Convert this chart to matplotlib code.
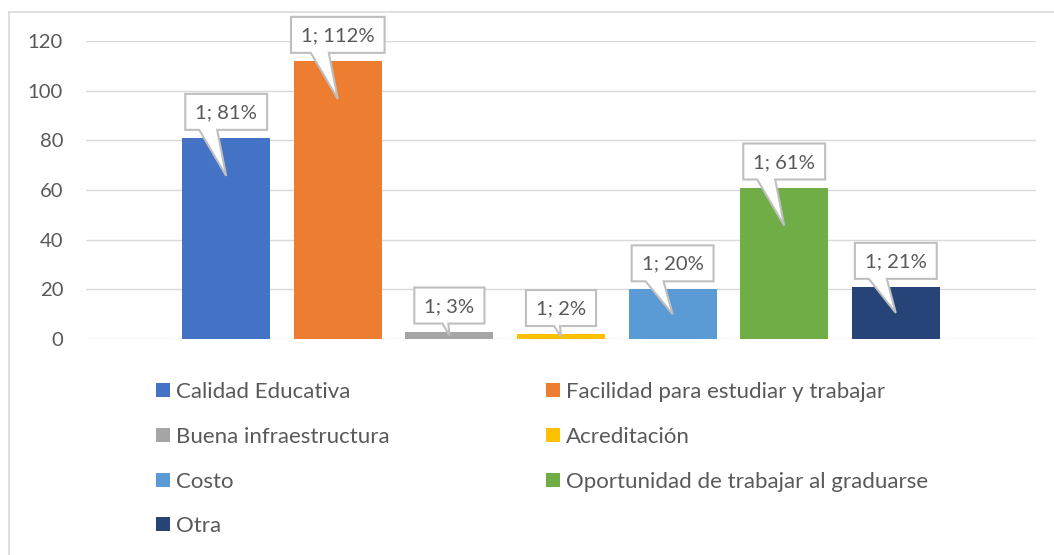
import numpy as np
import matplotlib.pyplot as plt
from matplotlib.patches import Polygon, Rectangle
from matplotlib.lines import Line2D
from matplotlib.transforms import IdentityTransform

# data
categories = ['Calidad Educativa', 'Facilidad para estudiar y trabajar',
              'Buena infraestructura', 'Acreditación', 'Costo',
              'Oportunidad de trabajar al graduarse', 'Otra']
values = [81, 112, 3, 2, 20, 61, 21]
labels = ['1; 81%', '1; 112%', '1; 3%', '1; 2%', '1; 20%', '1; 61%', '1; 21%']
colors = ['#4472C4', '#ED7D31', '#A5A5A5', '#FFC000', '#5B9BD5', '#70AD47', '#264478']
yticks = [0, 20, 40, 60, 80, 100, 120]

plt.rcParams['font.family'] = ['Lato', 'DejaVu Sans']
txt_col = '#595959'
fs = 14.6
fs_leg = 16

W, H = 1054, 555
fig = plt.figure(figsize=(W / 100, H / 100), dpi=100)
ax = fig.add_axes([86 / W, (H - 339) / H, (1036 - 86) / W, (339 - 41) / H])

x = np.arange(len(values))
ax.bar(x, values, width=0.79, color=colors, zorder=2)
ax.set_xlim(-1.256, 7.256)
ax.set_ylim(0, 120)
ax.set_yticks(yticks)
ax.set_xticks([])
ax.tick_params(axis='y', length=0, pad=16.5, labelsize=fs, labelcolor=txt_col)
for s in ax.spines.values():
    s.set_visible(False)
ax.grid(axis='y', color='#d9d9d9', lw=1.0, zorder=0)

# chart frame (only top and left edges are visible in the crop)
fig.add_artist(Line2D([9, W + 5], [H - 12, H - 12], transform=IdentityTransform(),
                      color='#d9d9d9', lw=1.2))
fig.add_artist(Line2D([9, 9], [H - 12, -5], transform=IdentityTransform(),
                      color='#d9d9d9', lw=1.2))

# callout labels
fig.canvas.draw()
renderer = fig.canvas.get_renderer()
for xi, v, lab in zip(x, values, labels):
    cx, yt = ax.transData.transform((xi, v))
    _, yb = ax.transData.transform((xi, 0))
    t = fig.text(cx, 0, lab, transform=IdentityTransform(), fontsize=fs,
                 color=txt_col, ha='center', va='center', zorder=6)
    tw = t.get_window_extent(renderer).width
    bw = tw + 20
    bot = yt + 8
    top = bot + 36
    L, R = cx - bw / 2, cx + bw / 2
    tip_y = max(yt - 38, (yt + yb) / 2)
    if bot - tip_y > 20:
        b1, b2 = cx - 27, cx - 9
    else:
        b1, b2 = cx - 7, cx - 1
    pts = [(L, bot), (b1, bot), (cx, tip_y), (b2, bot), (R, bot), (R, top), (L, top)]
    fig.add_artist(Polygon(pts, closed=True, transform=IdentityTransform(),
                           facecolor='white', edgecolor='#bfbfbf', lw=1.5, zorder=5))
    t.set_position((cx, (bot + top) / 2 - 1))

# legend, row-major in two columns
col_x = [156, 546]
row_y = [390, 435, 480, 524]
for i, (name, c) in enumerate(zip(categories, colors)):
    px = col_x[i % 2]
    py = H - row_y[i // 2]
    fig.add_artist(Rectangle((px, py - 7), 14, 14, transform=IdentityTransform(),
                             facecolor=c, edgecolor='none'))
    fig.text(px + 20, py, name, transform=IdentityTransform(), fontsize=fs_leg,
             color=txt_col, ha='left', va='center_baseline')

fig.savefig('out.png', dpi=100)
